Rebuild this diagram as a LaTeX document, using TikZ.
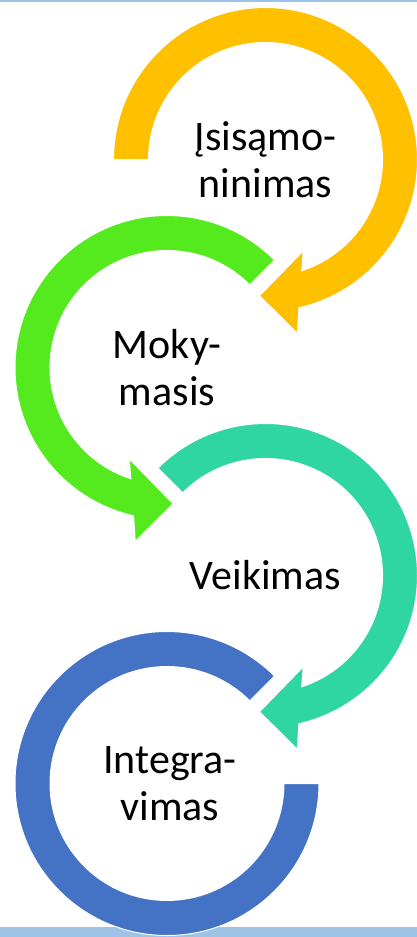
\documentclass[tikz,border=0pt]{standalone}
\usepackage{fontspec}
\setmainfont{Carlito}
\usepackage{tikz}
\usetikzlibrary{calc}
\definecolor{ringyellow}{HTML}{FFC000}
\definecolor{ringgreen}{HTML}{55EA1E}
\definecolor{ringteal}{HTML}{30D6A2}
\definecolor{ringblue}{HTML}{4472C4}
\definecolor{bandblue}{HTML}{9DC3E6}

\begin{document}
\begin{tikzpicture}[x=1pt,y=1pt,
  lbl/.style={align=center,inner sep=0pt,font=\fontsize{42}{47}\selectfont},
  ring/.style={draw=white,line width=1pt}]
  \useasboundingbox (0,0) rectangle (417,-937);
  \fill[bandblue] (0,0) rectangle (417,-2);
  \fill[bandblue] (0,-927) rectangle (417,-937);
  \coordinate (cA) at (265.5,-159.5);
  \coordinate (cB) at (167,-367.5);
  \coordinate (cC) at (265.5,-575.5);
  \coordinate (cD) at (167,-783.5);
  % yellow
  \path[ring,fill=ringyellow] ($(cA)+(180:152)$) arc[start angle=180,end angle=-77.3,radius=152]
    -- ($(cA)+(31.8,-173.8)$) -- ($(cA)+(-6,-136.3)$) -- ($(cA)+(37.8,-91.2)$)
    -- ($(cA)+(-72:117)$) arc[start angle=-72,end angle=180,radius=117] -- cycle;
  % green
  \path[ring,fill=ringgreen] ($(cB)+(45:152)$) arc[start angle=45,end angle=257.3,radius=152]
    -- ($(cB)+(-31.8,-173.8)$) -- ($(cB)+(6,-136.3)$) -- ($(cB)+(-37.8,-91.2)$)
    -- ($(cB)+(252:117)$) arc[start angle=252,end angle=45,radius=117] -- cycle;
  % teal
  \path[ring,fill=ringteal] ($(cC)+(135:152)$) arc[start angle=135,end angle=-77.3,radius=152]
    -- ($(cC)+(31.8,-173.8)$) -- ($(cC)+(-6,-136.3)$) -- ($(cC)+(37.8,-91.2)$)
    -- ($(cC)+(-72:117)$) arc[start angle=-72,end angle=135,radius=117] -- cycle;
  % blue
  \path[ring,fill=ringblue] ($(cD)+(0:152)$) arc[start angle=0,end angle=-315,radius=152]
    -- ($(cD)+(-315:117)$) arc[start angle=-315,end angle=0,radius=117] -- cycle;
  \node (isis) at (cA) [lbl] {Įsisąmo-\\ninimas};
  \node (moky) at (cB) [lbl] {Moky-\\masis};
  \node (veik) at (cC) [lbl] {Veikimas};
  \node (integ) at ($(cD)+(3,0)$) [lbl] {Integra-\\vimas};
\end{tikzpicture}
\end{document}
